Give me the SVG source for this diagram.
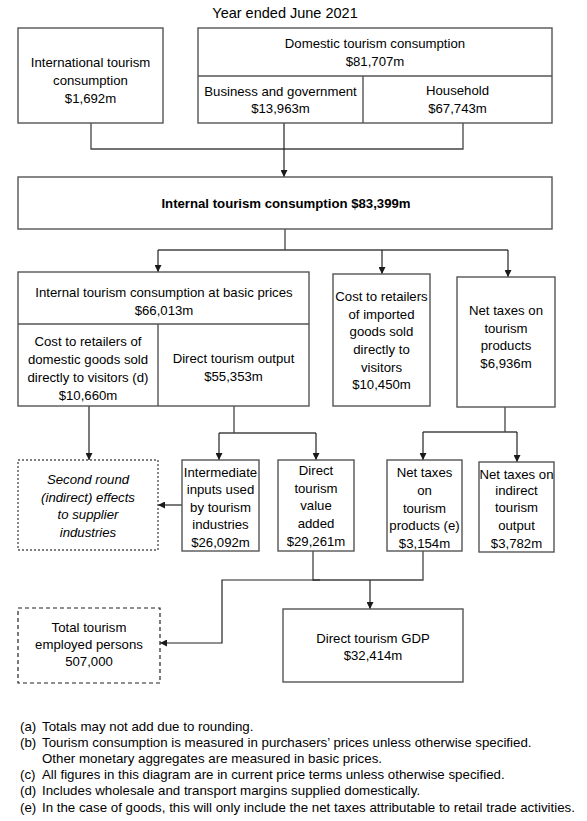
<svg xmlns="http://www.w3.org/2000/svg" width="587" height="821" viewBox="0 0 587 821">
<defs>
<marker id="ah" viewBox="0 0 8 8" refX="8" refY="4" markerWidth="7" markerHeight="7" markerUnits="userSpaceOnUse" orient="auto">
<path d="M0,0 L8,4 L0,8 Z" fill="#1a1a1a"/>
</marker>
</defs>
<style>
text{font-family:"Liberation Sans",Arial,sans-serif;font-size:13.2px;fill:#000;text-anchor:middle}
.t{font-size:14.5px}
.b{font-weight:bold}
.i{font-style:italic}
.fn{text-anchor:start;font-size:13.3px}
.box{fill:#fff;stroke:#555;stroke-width:1.4}
.div{stroke:#555;stroke-width:1.4;fill:none}
.dot{fill:#fff;stroke:#555;stroke-width:1.4;stroke-dasharray:2 2}
.dash{fill:#fff;stroke:#222;stroke-width:1.2;stroke-dasharray:4 3}
.c{fill:none;stroke:#444;stroke-width:1.3}
.a{fill:none;stroke:#222;stroke-width:1.2;marker-end:url(#ah)}
</style>
<rect width="587" height="821" fill="#fff"/>
<text class="t" x="285" y="18">Year ended June 2021</text>

<g id="connectors">
<path class="c" d="M91,123 V149 H463 V123"/>
<path class="a" d="M284,123 V177"/>
<path class="c" d="M285,229 V250 M158,250 H508"/>
<path class="a" d="M158,250 V272"/>
<path class="a" d="M382,250 V274"/>
<path class="a" d="M508,250 V277"/>
<path class="a" d="M89,406 V460"/>
<path class="c" d="M234,406 V433 M219,433 H316"/>
<path class="a" d="M219,433 V460"/>
<path class="a" d="M316,433 V460"/>
<path class="c" d="M505,407 V432 M423,432 H517"/>
<path class="a" d="M423,432 V460"/>
<path class="a" d="M517,432 V462"/>
<path class="a" d="M182,505 H158"/>
<path class="c" d="M313,551 V580 H423 V551"/>
<path class="a" d="M370,580 V609"/>
<path class="a" d="M320,580 H222 V643 H160"/>
</g>

<g id="international">
<rect class="box" x="18" y="28" width="145" height="95"/>
<text x="90.5" y="67">International tourism</text>
<text x="90.5" y="85">consumption</text>
<text x="90.5" y="103">$1,692m</text>
</g>

<g id="domestic">
<rect class="box" x="198" y="28" width="354" height="95"/>
<path class="div" d="M198,76 H552 M363,76 V123"/>
<text x="375" y="48">Domestic tourism consumption</text>
<text x="375" y="66">$81,707m</text>
</g>
<g id="business">
<text x="280.5" y="95.5">Business and government</text>
<text x="280.5" y="113">$13,963m</text>
</g>
<g id="household">
<text x="457.5" y="95">Household</text>
<text x="457.5" y="113">$67,743m</text>
</g>

<g id="internal">
<rect class="box" x="18" y="177" width="534" height="52"/>
<text class="b" x="286" y="208">Internal tourism consumption $83,399m</text>
</g>

<g id="basic">
<rect class="box" x="18" y="272" width="291" height="134"/>
<path class="div" d="M18,324 H309 M158,324 V406"/>
<text x="164" y="297">Internal tourism consumption at basic prices</text>
<text x="164" y="315">$66,013m</text>
</g>
<g id="costdomestic">
<text x="88" y="345.5">Cost to retailers of</text>
<text x="88" y="363.5">domestic goods sold</text>
<text x="88" y="381.5">directly to visitors (d)</text>
<text x="88" y="399.5">$10,660m</text>
</g>
<g id="directoutput">
<text x="233.5" y="362.5">Direct tourism output</text>
<text x="233.5" y="380.5">$55,353m</text>
</g>

<g id="costimported">
<rect class="box" x="333" y="274" width="97" height="132"/>
<text x="381.5" y="301">Cost to retailers</text>
<text x="381.5" y="319">of imported</text>
<text x="381.5" y="336">goods sold</text>
<text x="381.5" y="354">directly to</text>
<text x="381.5" y="371.5">visitors</text>
<text x="381.5" y="389">$10,450m</text>
</g>

<g id="nettaxes">
<rect class="box" x="457" y="277" width="98" height="130"/>
<text x="506" y="315">Net taxes on</text>
<text x="506" y="333">tourism</text>
<text x="506" y="350">products</text>
<text x="506" y="368">$6,936m</text>
</g>

<g id="secondround">
<rect class="dot" x="18" y="460" width="140" height="90"/>
<text class="i" x="88" y="484">Second round</text>
<text class="i" x="88" y="502">(indirect) effects</text>
<text class="i" x="88" y="519">to supplier</text>
<text class="i" x="88" y="537">industries</text>
</g>

<g id="intermediate">
<rect class="box" x="182" y="460" width="77" height="91"/>
<text x="220.5" y="476.5">Intermediate</text>
<text x="220.5" y="494">inputs used</text>
<text x="220.5" y="511.5">by tourism</text>
<text x="220.5" y="529">industries</text>
<text x="220.5" y="546.5">$26,092m</text>
</g>

<g id="valueadded">
<rect class="box" x="278" y="460" width="76" height="91"/>
<text x="316" y="475">Direct</text>
<text x="316" y="493">tourism</text>
<text x="316" y="510">value</text>
<text x="316" y="528">added</text>
<text x="316" y="545.5">$29,261m</text>
</g>

<g id="nettaxesproducts">
<rect class="box" x="387" y="460" width="75" height="91"/>
<text x="424.5" y="477">Net taxes</text>
<text x="424.5" y="495">on</text>
<text x="424.5" y="512.5">tourism</text>
<text x="424.5" y="530">products (e)</text>
<text x="424.5" y="548">$3,154m</text>
</g>

<g id="nettaxesindirect">
<rect class="box" x="479" y="462" width="75" height="90"/>
<text x="516.5" y="479">Net taxes on</text>
<text x="516.5" y="495">indirect</text>
<text x="516.5" y="512">tourism</text>
<text x="516.5" y="530">output</text>
<text x="516.5" y="548">$3,782m</text>
</g>

<g id="employed">
<rect class="dash" x="18" y="608" width="142" height="75"/>
<text x="89" y="632">Total tourism</text>
<text x="89" y="649">employed persons</text>
<text x="89" y="666">507,000</text>
</g>

<g id="gdp">
<rect class="box" x="283" y="609" width="180" height="73"/>
<text x="373" y="643">Direct tourism GDP</text>
<text x="373" y="660">$32,414m</text>
</g>

<g id="footnotes">
<text class="fn" x="20" y="731">(a)</text><text class="fn" x="42" y="731">Totals may not add due to rounding.</text>
<text class="fn" x="20" y="747">(b)</text><text class="fn" x="42" y="747">Tourism consumption is measured in purchasers’ prices unless otherwise specified.</text>
<text class="fn" x="42" y="763">Other monetary aggregates are measured in basic prices.</text>
<text class="fn" x="20" y="779">(c)</text><text class="fn" x="42" y="779">All figures in this diagram are in current price terms unless otherwise specified.</text>
<text class="fn" x="20" y="795">(d)</text><text class="fn" x="42" y="795">Includes wholesale and transport margins supplied domestically.</text>
<text class="fn" x="20" y="812">(e)</text><text class="fn" x="42" y="812">In the case of goods, this will only include the net taxes attributable to retail trade activities.</text>
</g>
</svg>
